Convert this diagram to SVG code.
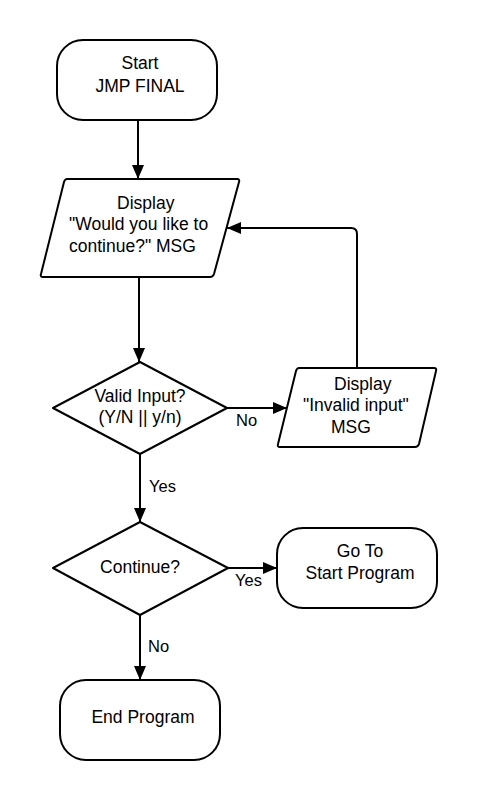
<svg xmlns="http://www.w3.org/2000/svg" width="477" height="800" viewBox="0 0 477 800">
<style>
.s{fill:#fff;stroke:#000;stroke-width:2;stroke-linejoin:round}
.t{font-family:"Liberation Sans",Arial,sans-serif;font-size:17.5px;fill:#000;text-anchor:middle}
.ts{font-family:"Liberation Sans",Arial,sans-serif;font-size:17.5px;fill:#000}
.l{font-family:"Liberation Sans",Arial,sans-serif;font-size:16.5px;fill:#000}
.c{fill:none;stroke:#000;stroke-width:2}
</style>
<defs>
<marker id="a" viewBox="0 0 14 12" refX="14" refY="6" markerWidth="14" markerHeight="12" markerUnits="userSpaceOnUse" orient="auto">
<path d="M0,0 L14,6 L0,12 z" fill="#000"/>
</marker>
</defs>
<rect width="477" height="800" fill="#fff"/>
<g id="connectors">
<path class="c" d="M138,120 V179" marker-end="url(#a)"/>
<path class="c" d="M139,277 V362" marker-end="url(#a)"/>
<path class="c" d="M227,408 H287" marker-end="url(#a)"/>
<path class="c" d="M357,368 V234 Q357,228 351,228 H227" marker-end="url(#a)"/>
<path class="c" d="M140,454 V522" marker-end="url(#a)"/>
<path class="c" d="M228,568 H277" marker-end="url(#a)"/>
<path class="c" d="M140,615 V680" marker-end="url(#a)"/>
<text class="l" x="236" y="426">No</text>
<text class="l" x="149" y="492">Yes</text>
<text class="l" x="235" y="586">Yes</text>
<text class="l" x="148" y="652">No</text>
</g>
<g id="start">
<rect class="s" x="57" y="40" width="160" height="80" rx="26"/>
<text class="t" x="140" y="69">Start</text>
<text class="t" x="140" y="92">JMP FINAL</text>
</g>
<g id="display1">
<path class="s" d="M67,179 H237 Q240,179 239,182 L214,274 Q213,277 210,277 H43 Q40,277 41,274 L64,182 Q65,179 67,179 z"/>
<text class="ts" x="117" y="209">Display</text>
<text class="ts" x="69" y="230">"Would you like to</text>
<text class="ts" x="69" y="252">continue?" MSG</text>
</g>
<g id="valid">
<path class="s" d="M140,362 L227,408 L140,454 L53,408 z"/>
<text class="t" x="140" y="402">Valid Input?</text>
<text class="t" x="140" y="423">(Y/N || y/n)</text>
</g>
<g id="display2">
<path class="s" d="M299,368 H434 Q437,368 436,371 L419,444 Q418,447 415,447 H280 Q277,447 278,444 L296,371 Q297,368 299,368 z"/>
<text class="ts" x="334" y="390">Display</text>
<text class="ts" x="303" y="411">"Invalid input"</text>
<text class="ts" x="331" y="433">MSG</text>
</g>
<g id="continue">
<path class="s" d="M140,522 L228,568 L140,615 L53,568 z"/>
<text class="t" x="140" y="573">Continue?</text>
</g>
<g id="goto">
<rect class="s" x="277" y="528" width="160" height="80" rx="26"/>
<text class="t" x="360" y="557">Go To</text>
<text class="t" x="360" y="579">Start Program</text>
</g>
<g id="end">
<rect class="s" x="60" y="680" width="160" height="80" rx="26"/>
<text class="t" x="143" y="723">End Program</text>
</g>
</svg>
